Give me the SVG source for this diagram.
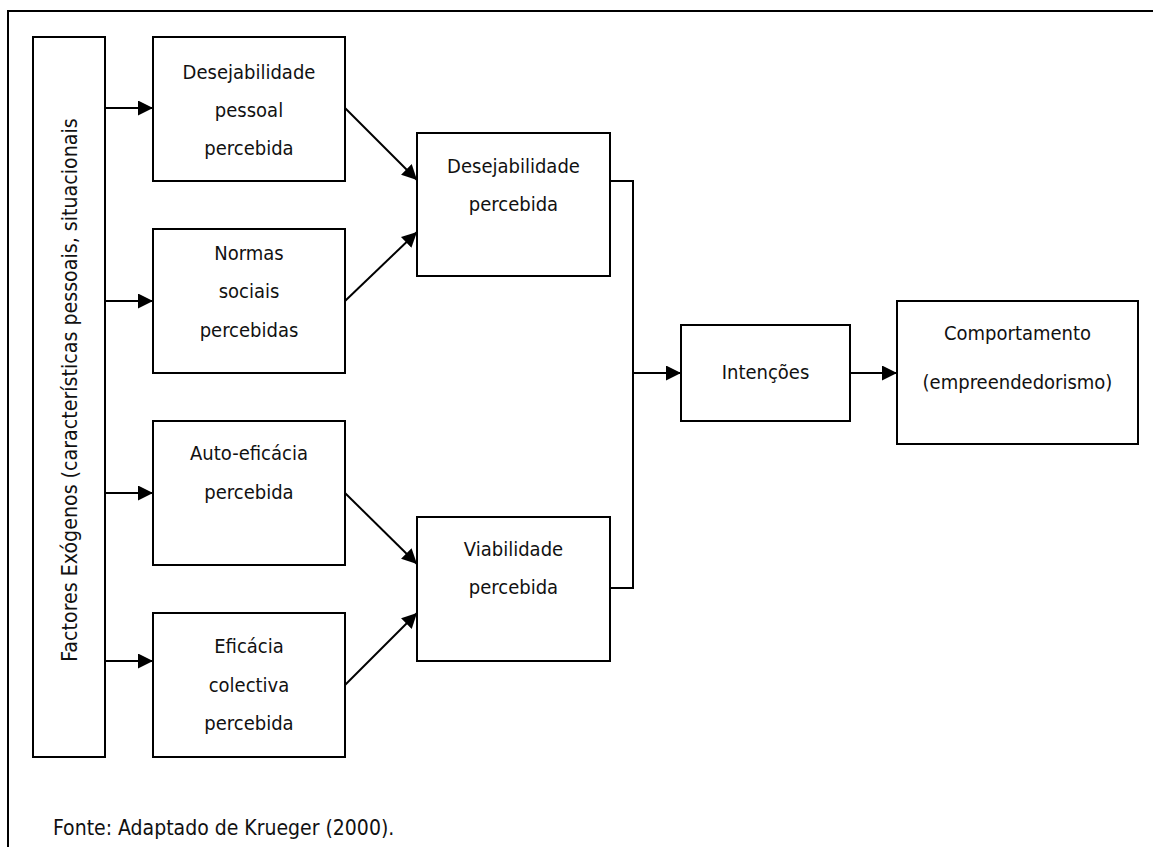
<svg xmlns="http://www.w3.org/2000/svg" width="1153" height="847" viewBox="0 0 1153 847">
  <style>
    .box { fill: #ffffff; stroke: #000000; stroke-width: 2; }
    .lbl { font-family: "DejaVu Sans Condensed", "DejaVu Sans", Verdana, sans-serif; font-stretch: condensed; font-size: 20px; fill: #111111; text-anchor: middle; }
    .side { font-size: 21.2px; }
    .note { font-family: "DejaVu Sans Condensed", "DejaVu Sans", Verdana, sans-serif; font-stretch: condensed; font-size: 21px; fill: #111111; }
    .wire { fill: none; stroke: #000000; stroke-width: 2; }
  </style>
  <defs>
    <marker id="head" viewBox="0 0 10 10" refX="10" refY="5" markerWidth="15" markerHeight="15" markerUnits="userSpaceOnUse" orient="auto">
      <path d="M0,0 L10,5 L0,10 Z" fill="#000000"/>
    </marker>
  </defs>
  <rect x="0" y="0" width="1153" height="847" fill="#ffffff"/>

  <!-- outer frame: top and left edges -->
  <path class="wire" d="M8,847 V11 H1153"/>

  <g id="factores">
    <rect class="box" x="33" y="37" width="72" height="720"/>
    <text class="lbl side" transform="translate(77,390) rotate(-90)">Factores Exógenos (características pessoais, situacionais</text>
  </g>

  <g id="desejabilidade-pessoal">
    <rect class="box" x="153" y="37" width="192" height="144"/>
    <text class="lbl" x="249" y="79">Desejabilidade</text>
    <text class="lbl" x="249" y="117">pessoal</text>
    <text class="lbl" x="249" y="155">percebida</text>
  </g>

  <g id="normas-sociais">
    <rect class="box" x="153" y="229" width="192" height="144"/>
    <text class="lbl" x="249" y="260">Normas</text>
    <text class="lbl" x="249" y="298">sociais</text>
    <text class="lbl" x="249" y="337">percebidas</text>
  </g>

  <g id="auto-eficacia">
    <rect class="box" x="153" y="421" width="192" height="144"/>
    <text class="lbl" x="249" y="460">Auto-eficácia</text>
    <text class="lbl" x="249" y="499">percebida</text>
  </g>

  <g id="eficacia-colectiva">
    <rect class="box" x="153" y="613" width="192" height="144"/>
    <text class="lbl" x="249" y="653">Eficácia</text>
    <text class="lbl" x="249" y="692">colectiva</text>
    <text class="lbl" x="249" y="730">percebida</text>
  </g>

  <g id="desejabilidade-percebida">
    <rect class="box" x="417" y="133" width="193" height="143"/>
    <text class="lbl" x="513.5" y="173">Desejabilidade</text>
    <text class="lbl" x="513.5" y="211">percebida</text>
  </g>

  <g id="viabilidade-percebida">
    <rect class="box" x="417" y="517" width="193" height="144"/>
    <text class="lbl" x="513.5" y="556">Viabilidade</text>
    <text class="lbl" x="513.5" y="594">percebida</text>
  </g>

  <g id="intencoes">
    <rect class="box" x="681" y="325" width="169" height="96"/>
    <text class="lbl" x="765.5" y="379">Intenções</text>
  </g>

  <g id="comportamento">
    <rect class="box" x="897" y="301" width="241" height="143"/>
    <text class="lbl" x="1017.5" y="340">Comportamento</text>
    <text class="lbl" x="1017.5" y="389">(empreendedorismo)</text>
  </g>

  <g id="connectors">
    <line class="wire" x1="105" y1="108" x2="153" y2="108" marker-end="url(#head)"/>
    <line class="wire" x1="105" y1="301" x2="153" y2="301" marker-end="url(#head)"/>
    <line class="wire" x1="105" y1="493" x2="153" y2="493" marker-end="url(#head)"/>
    <line class="wire" x1="105" y1="661" x2="153" y2="661" marker-end="url(#head)"/>

    <line class="wire" x1="345" y1="108" x2="417" y2="180" marker-end="url(#head)"/>
    <line class="wire" x1="345" y1="301" x2="417" y2="232" marker-end="url(#head)"/>
    <line class="wire" x1="345" y1="493" x2="417" y2="564" marker-end="url(#head)"/>
    <line class="wire" x1="345" y1="685" x2="417" y2="613" marker-end="url(#head)"/>

    <path class="wire" d="M610,181 H633 V588 H610"/>
    <line class="wire" x1="633" y1="373" x2="681" y2="373" marker-end="url(#head)"/>
    <line class="wire" x1="850" y1="373" x2="897" y2="373" marker-end="url(#head)"/>
  </g>

  <text class="note" x="53" y="835">Fonte: Adaptado de Krueger (2000).</text>
</svg>
